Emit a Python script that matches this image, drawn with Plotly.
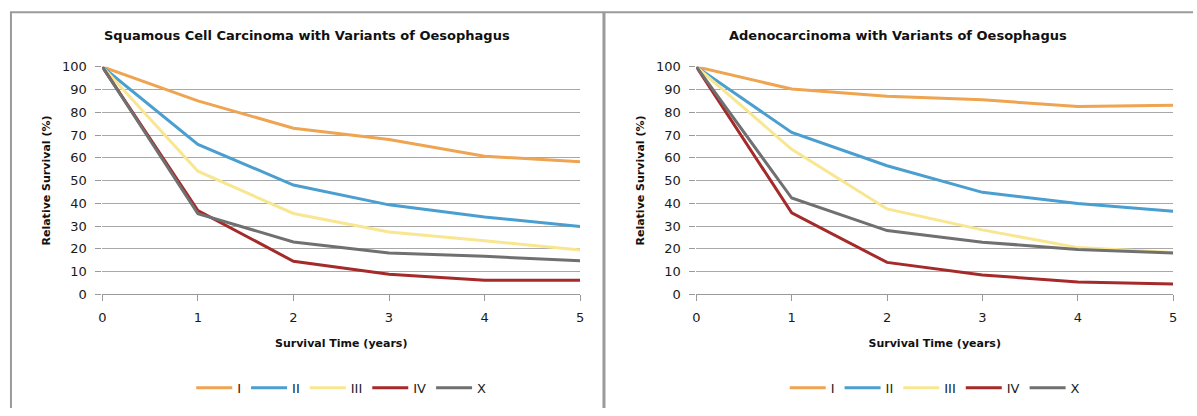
import plotly.graph_objects as go

years = [0, 1, 2, 3, 4, 5]
stages = ["I", "II", "III", "IV", "X"]
colors = ["#EEA450", "#4A9FD0", "#F8E690", "#A52A2A", "#707070"]

scc_I = [100, 85, 73, 68, 60.7, 58.2]
scc_II = [100, 65.9, 48, 39.3, 34.0, 29.8]
scc_III = [100, 54.1, 35.5, 27.4, 23.5, 19.5]
scc_IV = [100, 36.8, 14.5, 8.8, 6.2, 6.2]
scc_X = [100, 35.4, 23, 18.1, 16.7, 14.7]

ad_I = [100, 90.2, 87, 85.5, 82.5, 83.1]
ad_II = [100, 71.1, 56.5, 44.8, 39.9, 36.5]
ad_III = [100, 63.7, 37.5, 28.3, 20.5, 18.4]
ad_IV = [100, 35.8, 14, 8.5, 5.4, 4.5]
ad_X = [100, 42.3, 28, 22.9, 19.7, 18.1]

titles = ["Squamous Cell Carcinoma with Variants of Oesophagus",
          "Adenocarcinoma with Variants of Oesophagus"]
x_title = "Survival Time (years)"
y_title = "Relative Survival (%)"
y_ticks = [0, 10, 20, 30, 40, 50, 60, 70, 80, 90, 100]

W, H = 1197, 416
FONT = "DejaVu Sans"

fig = go.Figure()
panels = [
    ([scc_I, scc_II, scc_III, scc_IV, scc_X], "x", "y", "legend"),
    ([ad_I, ad_II, ad_III, ad_IV, ad_X], "x2", "y2", "legend2"),
]
for series, xa, ya, lg in panels:
    for name, vals, col in zip(stages, series, colors):
        fig.add_trace(go.Scatter(x=years, y=vals, name=name, mode="lines",
                                 line=dict(color=col, width=3),
                                 xaxis=xa, yaxis=ya, legend=lg))

def px_x(p):
    return p / W

def px_y(p):
    return 1 - p / H

plot_top, plot_bot = 62, 298
doms = [(99, 580), (697, 1177)]

axis_common = dict(ticks="outside", ticklen=6, tickcolor="#9A9A9A",
                   tickfont=dict(family=FONT, size=13, color="#1a1a1a"),
                   zeroline=False)

layout = dict(
    width=W, height=H, margin=dict(l=0, r=0, t=0, b=0),
    paper_bgcolor="white", plot_bgcolor="white",
    font=dict(family=FONT, color="#111111"),
    showlegend=True,
)
for i, (d0, d1) in enumerate(doms):
    sfx = "" if i == 0 else "2"
    layout["xaxis" + sfx] = dict(
        domain=[px_x(d0), px_x(d1)], range=[0, 5], dtick=1,
        showgrid=False, anchor="y" + sfx,
        showline=True, linecolor="#9A9A9A", linewidth=1,
        ticklabelstandoff=5,
        title=dict(text="<b>" + x_title + "</b>", standoff=15,
                   font=dict(family=FONT, size=11, color="#111111")),
        **axis_common)
    layout["yaxis" + sfx] = dict(
        domain=[px_y(plot_bot), px_y(plot_top)], range=[0, 100],
        tickvals=y_ticks, showgrid=True, gridcolor="#A8A8A8", gridwidth=1,
        anchor="x" + sfx, showline=False,
        ticklabelstandoff=6,
        title=dict(text="<b>" + y_title + "</b>", standoff=9,
                   font=dict(family=FONT, size=11, color="#111111")),
        **axis_common)
    lg = "legend" if i == 0 else "legend2"
    layout[lg] = dict(orientation="h", x=px_x((d0 + d1) / 2), xanchor="center",
                      y=px_y(395), yanchor="middle",
                      font=dict(family=FONT, size=13, color="#222222"),
                      itemwidth=36, tracegroupgap=0, bgcolor="rgba(0,0,0,0)")
fig.update_layout(**layout)

# chart titles
for t, cx in zip(titles, [305, 900]):
    fig.add_annotation(text="<b>" + t + "</b>", x=px_x(cx), y=px_y(30),
                       xref="paper", yref="paper", showarrow=False,
                       xanchor="center", yanchor="middle",
                       font=dict(family=FONT, size=13, color="#111111"))

# panel borders
border = dict(color="#9A9A9A", width=2)
fig.add_shape(type="line", xref="paper", yref="paper",
              x0=px_x(6), x1=1, y0=px_y(5.5), y1=px_y(5.5), line=border)
fig.add_shape(type="line", xref="paper", yref="paper",
              x0=px_x(7), x1=px_x(7), y0=px_y(5.5), y1=0, line=border)
fig.add_shape(type="line", xref="paper", yref="paper",
              x0=px_x(604), x1=px_x(604), y0=px_y(5.5), y1=0,
              line=dict(color="#9A9A9A", width=3))

fig.write_html("out.html", config={"displayModeBar": False},
               post_script="document.body.style.margin='0';"
                           "document.body.style.padding='0';"
                           "document.body.style.overflow='hidden';")
